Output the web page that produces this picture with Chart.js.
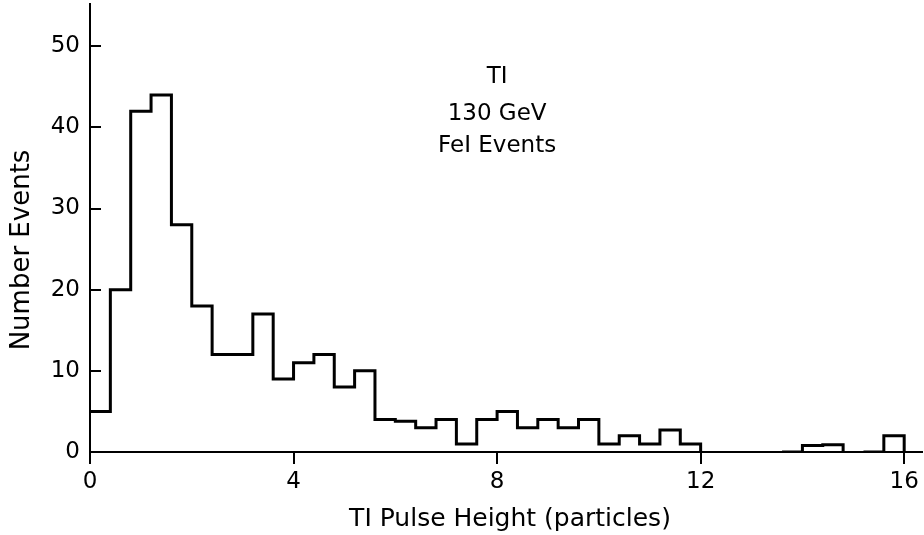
<!DOCTYPE html>
<html>
<head>
<meta charset="utf-8">
<script src="https://cdn.jsdelivr.net/npm/chart.js@4"></script>
<style>
  html, body { margin: 0; padding: 0; background: #fff; }
  canvas { display: block; }
</style>
</head>
<body>
<canvas id="c" width="924" height="535"></canvas>
<script>
// Bin lower edges (T1 pulse height, particles)
const binStart = [0, 0.4, 0.8, 1.2, 1.6, 2.0, 2.4, 2.8, 3.2, 3.6,
                  4.0, 4.4, 4.8, 5.2, 5.6, 6.0, 6.4, 6.8, 7.2, 7.6,
                  8.0, 8.4, 8.8, 9.2, 9.6, 10.0, 10.4, 10.8, 11.2, 11.6,
                  12.0, 12.4, 12.8, 13.2, 13.6, 14.0, 14.4, 14.8, 15.2, 15.6,
                  16.0];
// Number of events per bin (last entry closes the histogram at 16.0)
const counts = [5, 20, 42, 44, 28, 18, 12, 12, 17, 9,
                11, 12, 8, 10, 4, 3.8, 3, 4, 1, 4,
                5, 3, 4, 3, 4, 1, 2, 1, 2.7, 1,
                0, 0, 0, 0, 0, 0.8, 0.9, 0, 0, 2,
                0];
const xTickValues = [0, 4, 8, 12, 16];
const yTickValues = [0, 10, 20, 30, 40, 50];
const annotationLines = ["TI", "130 GeV", "FeI Events"];
const xTitle = "TI Pulse Height (particles)";
const yTitle = "Number Events";

const FONT = "'DejaVu Sans', 'Liberation Sans', sans-serif";

const textPlugin = {
  id: 'texts',
  afterDraw(chart) {
    const ctx = chart.ctx;
    const xs = chart.scales.x, ys = chart.scales.y;
    ctx.save();
    ctx.fillStyle = '#000';
    // annotation block
    const cx = xs.getPixelForValue(8.0);
    const yVals = [46.15, 41.65, 37.75];
    ctx.font = "23px " + FONT;
    ctx.textAlign = 'center';
    ctx.textBaseline = 'middle';
    annotationLines.forEach((t, i) => {
      ctx.fillText(t, cx, ys.getPixelForValue(yVals[i]));
    });
    // x axis title
    ctx.font = "25px " + FONT;
    ctx.fillText(xTitle, 510, 519);
    // y axis title
    ctx.save();
    ctx.translate(22, 250);
    ctx.rotate(-Math.PI / 2);
    ctx.font = "26px " + FONT;
    ctx.fillText(yTitle, 0, 0);
    ctx.restore();
    // inward tick marks on the y axis
    const left = chart.chartArea.left;
    ctx.strokeStyle = '#000';
    ctx.lineWidth = 2;
    ctx.beginPath();
    yTickValues.forEach(v => {
      const py = Math.round(ys.getPixelForValue(v));
      ctx.moveTo(left, py);
      ctx.lineTo(left + 11, py);
    });
    ctx.stroke();
    ctx.restore();
  }
};

new Chart(document.getElementById('c'), {
  type: 'line',
  data: {
    datasets: [{
      data: binStart.map((x, i) => ({ x: x, y: counts[i] })),
      stepped: 'before',
      borderColor: '#000',
      borderWidth: 3,
      pointRadius: 0,
      fill: false,
      segment: {
        borderColor: (c) => (c.p0.parsed.y === 0 && c.p1.parsed.y === 0) ? 'rgba(0,0,0,0)' : undefined
      }
    }]
  },
  options: {
    responsive: false,
    animation: false,
    devicePixelRatio: 1,
    layout: { padding: { top: 4, right: 2, left: 0, bottom: 0 } },
    plugins: { legend: { display: false }, tooltip: { enabled: false } },
    scales: {
      x: {
        type: 'linear',
        min: 0,
        max: 16.35,
        afterBuildTicks: (s) => { s.ticks = xTickValues.map(v => ({ value: v })); },
        afterFit: (s) => { s.height = 83; s.paddingLeft = 0; s.paddingRight = 0; },
        border: { display: true, color: '#000', width: 2 },
        grid: { display: true, drawOnChartArea: false, drawTicks: true, tickLength: 12, color: '#000', lineWidth: 2 },
        ticks: { color: '#000', font: { family: FONT, size: 23 }, padding: 4, maxRotation: 0 },
        title: { display: false }
      },
      y: {
        type: 'linear',
        min: 0,
        max: 55.2,
        afterBuildTicks: (s) => { s.ticks = yTickValues.map(v => ({ value: v })); },
        afterFit: (s) => { s.width = 90; s.paddingTop = 0; s.paddingBottom = 0; },
        border: { display: true, color: '#000', width: 2 },
        grid: { display: true, drawOnChartArea: false, drawTicks: false, color: '#000', lineWidth: 2 },
        ticks: { color: '#000', font: { family: FONT, size: 23 }, padding: 10 },
        title: { display: false }
      }
    }
  },
  plugins: [textPlugin]
});
</script>
</body>
</html>
